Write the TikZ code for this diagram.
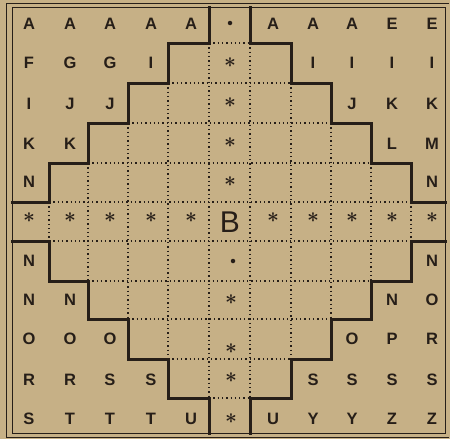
\documentclass[tikz,border=0pt]{standalone}
\usepackage{fontspec}
\setmainfont{Liberation Sans}
\usetikzlibrary{calc}
\definecolor{paper}{RGB}{198,176,134}
\definecolor{ink}{RGB}{38,30,24}
\begin{document}
\begin{tikzpicture}[x=1pt,y=-1pt,
  lett/.style={font=\fontsize{16.5}{18}\selectfont\bfseries, text=ink, inner sep=0pt},
  bigb/.style={font=\fontsize{30}{32}\selectfont, text=ink, inner sep=0pt},
  star/.style={font=\fontsize{21}{22}\selectfont\boldmath, text=ink, inner sep=0pt},
  blob/.style={circle, fill=ink, minimum size=4.5pt, inner sep=0pt},
  stair/.style={draw=ink, line width=3pt, line join=miter, line cap=rect},
  dotline/.style={draw=ink, line width=1.3pt, dash pattern=on 1.3pt off 3pt},
  frame/.style={draw=ink, line width=1pt}]
\useasboundingbox (0,0) rectangle (450,439);
\fill[paper] (0,0) rectangle (450,439);
% grid boundaries
\def\XS{{12,49,88,128,168,209,250,291,331,371,411,445}}
\def\YS{{7,43,83,123,163,202,241,281,319,359,398,433}}
% text positions
\def\LX{{29,70,110,151,191,230,273,313,352,392,432}}
\def\LY{{24,63,104,144,182,218,261,300,339,380,419}}
\foreach \i in {0,...,11}{
  \foreach \j in {0,...,11}{
    \pgfmathsetmacro\xx{\XS[\i]}
    \pgfmathsetmacro\yy{\YS[\j]}
    \coordinate (g\i-\j) at (\xx,\yy);
  }
}
\foreach \i in {0,...,10}{
  \foreach \j in {0,...,10}{
    \pgfmathsetmacro\xx{\LX[\i]}
    \pgfmathsetmacro\yy{\LY[\j]}
    \coordinate (p\i-\j) at (\xx,\yy);
  }
}
% frame
\draw[frame] (g0-0) rectangle (g11-11);
\draw[draw=ink, line width=0.8pt] (449,3) -- (6,3) -- (6,437) -- (449,437);
% dotted interior grid
\foreach \k [evaluate=\k as \a using int(6-\k), evaluate=\k as \b using int(5+\k)] in {1,...,5}{
  \draw[dotline] (g\a-\k) -- (g\b-\k);
  \draw[dotline] (g\k-\a) -- (g\k-\b);
}
\foreach \k [evaluate=\k as \a using int(\k-5), evaluate=\k as \b using int(16-\k)] in {6,...,10}{
  \draw[dotline] (g\a-\k) -- (g\b-\k);
  \draw[dotline] (g\k-\a) -- (g\k-\b);
}
% staircases
\draw[stair] (g0-5) -- (g1-5) -- (g1-4) -- (g2-4) -- (g2-3) -- (g3-3) -- (g3-2) -- (g4-2) -- (g4-1) -- (g5-1) -- (g5-0);
\draw[stair] (g6-0) -- (g6-1) -- (g7-1) -- (g7-2) -- (g8-2) -- (g8-3) -- (g9-3) -- (g9-4) -- (g10-4) -- (g10-5) -- (g11-5);
\draw[stair] (g0-6) -- (g1-6) -- (g1-7) -- (g2-7) -- (g2-8) -- (g3-8) -- (g3-9) -- (g4-9) -- (g4-10) -- (g5-10) -- (g5-11);
\draw[stair] (g6-11) -- (g6-10) -- (g7-10) -- (g7-9) -- (g8-9) -- (g8-8) -- (g9-8) -- (g9-7) -- (g10-7) -- (g10-6) -- (g11-6);
% letters
\foreach \c/\r/\t in {0/0/A,1/0/A,2/0/A,3/0/A,4/0/A,6/0/A,7/0/A,8/0/A,9/0/E,10/0/E,
  0/1/F,1/1/G,2/1/G,3/1/I,7/1/I,8/1/I,9/1/I,10/1/I,
  0/2/I,1/2/J,2/2/J,8/2/J,9/2/K,10/2/K,
  0/3/K,1/3/K,9/3/L,10/3/M,
  0/4/N,10/4/N,
  0/6/N,10/6/N,
  0/7/N,1/7/N,9/7/N,10/7/O,
  0/8/O,1/8/O,2/8/O,8/8/O,9/8/P,10/8/R,
  0/9/R,1/9/R,2/9/S,3/9/S,7/9/S,8/9/S,9/9/S,10/9/S,
  0/10/S,1/10/T,2/10/T,3/10/T,4/10/U,6/10/U,7/10/Y,8/10/Y,9/10/Z,10/10/Z}{
  \node[lett] (L\c-\r) at (p\c-\r) {\t};
}
% middle row asterisks
\foreach \c in {0,1,2,3,4,6,7,8,9,10}{
  \node[star] (sr\c) at (p\c-5) {$\ast$};
}
% centre column
\node[bigb] (B) at (230,222) {B};
\node[blob] (d0) at (230,23) {};
\node[blob] (d6) at (233,261) {};
\node[star] (sc1) at (230,63) {$\ast$};
\node[star] (sc2) at (230,103) {$\ast$};
\node[star] (sc3) at (230,143) {$\ast$};
\node[star] (sc4) at (230,182) {$\ast$};
\node[star] (sc7) at (231,300) {$\ast$};
\node[star] (sc8) at (231,349) {$\ast$};
\node[star] (sc9) at (231,378) {$\ast$};
\node[star] (sc10) at (231,419) {$\ast$};
\end{tikzpicture}
\end{document}
